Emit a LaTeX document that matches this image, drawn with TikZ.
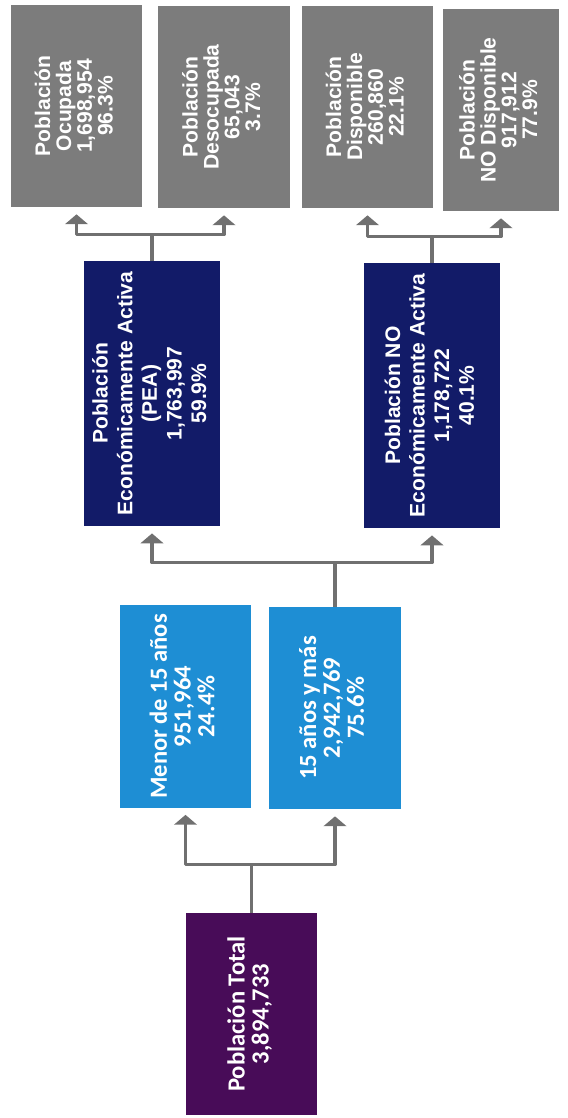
\documentclass[tikz,border=0pt]{standalone}
\usepackage{fontspec}
\setmainfont{Liberation Sans}
\newfontfamily\calfont{Carlito}
\usepackage{graphicx}
\usetikzlibrary{arrows.meta}
\definecolor{boxgray}{RGB}{124,124,124}
\definecolor{peanavy}{RGB}{18,27,104}
\definecolor{edadblue}{RGB}{30,142,212}
\definecolor{totpurple}{RGB}{72,12,88}
\definecolor{linkgray}{RGB}{112,112,112}
\newcommand{\vtxt}[1]{\rotatebox{90}{\begin{tabular}{@{}c@{}}#1\end{tabular}}}
\tikzset{
  every picture/.style={line join=round, line cap=round, >=Stealth},
  caja/.style={inner sep=0pt, text=white, minimum width=3.28cm, minimum height=5.05cm},
  gris/.style={caja, fill=boxgray, font=\bfseries\fontsize{15}{14}\selectfont},
  azul/.style={caja, fill=peanavy, minimum width=3.38cm, minimum height=6.63cm, font=\bfseries\fontsize{15}{17.5}\selectfont},
  celeste/.style={caja, fill=edadblue, font=\calfont\bfseries\fontsize{17.5}{16.5}\selectfont},
  morado/.style={caja, fill=totpurple, font=\calfont\bfseries\fontsize{17.5}{16.5}\selectfont},
  liga/.style={draw=linkgray, line width=2.2pt, line cap=butt},
  flecha/.style={liga, -{Triangle[width=16pt,length=7pt]}, shorten >=5pt},
}

\begin{document}
\begin{tikzpicture}[x=0.025cm, y=-0.025cm]
\useasboundingbox (0,0) rectangle (567,1118);

% nivel superior
\node[gris] (ocup) at (76.5,106) {\vtxt{Población\\Ocupada\\1,698,954\\96.3\%}};
\node[gris] (desoc) at (224,107) {\vtxt{Población\\Desocupada\\65,043\\3.7\%}};
\node[gris] (disp) at (367.5,107) {\vtxt{Población\\Disponible\\260,860\\22.1\%}};
\node[gris, minimum width=2.88cm] (nodisp) at (501,110) {\vtxt{Población\\NO Disponible\\917,912\\77.9\%}};

% PEA / no PEA
\node[azul] (pea) at (152,393.5) {\vtxt{Población\\Económicamente Activa\\(PEA)\\1,763,997\\59.9\%}};
\node[azul] (nopea) at (432,395.5) {\vtxt{Población NO\\Económicamente Activa\\1,178,722\\40.1\%}};

% edades
\node[celeste] (menor) at (185.5,706.5) {\vtxt{Menor de 15 años\\951,964\\24.4\%}};
\node[celeste] (mas) at (335,708) {\vtxt{15 años y más\\2,942,769\\75.6\%}};

% total
\node[morado] (total) at (251.5,1014) {\vtxt{Población Total\\3,894,733}};

% conectores
\draw[liga] (total.north) -- ++(0,-48) coordinate (c0);
\draw[flecha] (c0) -| (menor.south);
\draw[flecha] (c0) -| (mas.south);

\draw[liga] (mas.north) -- ++(0,-44) coordinate (c1);
\draw[flecha] (c1) -| (pea.south);
\draw[flecha] (c1) -| (nopea.south);

\draw[liga] (pea.north) -- ++(0,-26) coordinate (c2);
\draw[flecha] (c2) -| (ocup.south);
\draw[flecha] (c2) -| (desoc.south);

\draw[liga] (nopea.north) -- ++(0,-26) coordinate (c3);
\draw[flecha] (c3) -| (disp.south);
\draw[flecha] (c3) -| (nodisp.south);
\end{tikzpicture}
\end{document}
